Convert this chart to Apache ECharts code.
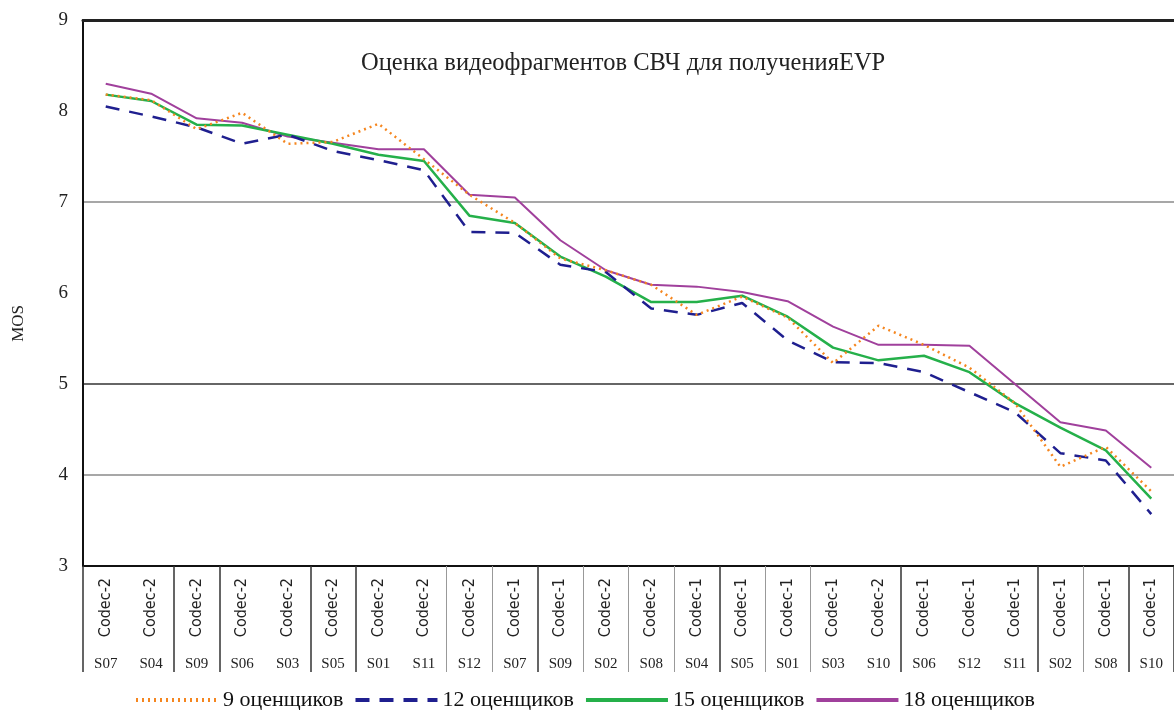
<!DOCTYPE html>
<html>
<head>
<meta charset="utf-8">
<title>MOS</title>
<script src="https://cdn.jsdelivr.net/npm/echarts@6/dist/echarts.min.js"></script>
<style>
    html, body { margin: 0; padding: 0; background: #fff; }
    #main { width: 1174px; height: 710px; }
</style>
</head>
<body>
<div id="main"></div>
<script>
// подписи категорий: кодек (повернут) и сцена
var codecs = ['Codec-2', 'Codec-2', 'Codec-2', 'Codec-2', 'Codec-2', 'Codec-2', 'Codec-2', 'Codec-2',
    'Codec-2', 'Codec-1', 'Codec-1', 'Codec-2', 'Codec-2', 'Codec-1', 'Codec-1', 'Codec-1',
    'Codec-1', 'Codec-2', 'Codec-1', 'Codec-1', 'Codec-1', 'Codec-1', 'Codec-1', 'Codec-1'];
var scenes = ['S07', 'S04', 'S09', 'S06', 'S03', 'S05', 'S01', 'S11',
    'S12', 'S07', 'S09', 'S02', 'S08', 'S04', 'S05', 'S01',
    'S03', 'S10', 'S06', 'S12', 'S11', 'S02', 'S08', 'S10'];

var yTicks = [3, 4, 5, 6, 7, 8, 9];

// оценки MOS
var mos9 = [8.18, 8.12, 7.8, 7.98, 7.64, 7.66, 7.86, 7.47, 7.08, 6.77, 6.38, 6.25,
    6.09, 5.76, 5.96, 5.73, 5.23, 5.64, 5.43, 5.18, 4.79, 4.09, 4.31, 3.82];
var mos12 = [8.05, 7.94, 7.82, 7.64, 7.74, 7.56, 7.46, 7.35, 6.67, 6.66, 6.31, 6.23,
    5.83, 5.76, 5.89, 5.48, 5.24, 5.23, 5.13, 4.91, 4.69, 4.24, 4.16, 3.57];
var mos15 = [8.18, 8.11, 7.85, 7.84, 7.74, 7.64, 7.52, 7.45, 6.85, 6.77, 6.4, 6.18,
    5.9, 5.9, 5.97, 5.74, 5.4, 5.26, 5.31, 5.13, 4.79, 4.52, 4.27, 3.74];
var mos18 = [8.3, 8.19, 7.92, 7.87, 7.72, 7.65, 7.58, 7.58, 7.08, 7.05, 6.58, 6.25,
    6.09, 6.07, 6.01, 5.91, 5.63, 5.43, 5.43, 5.42, 5.0, 4.58, 4.49, 4.08];

// границы групп на оси X
var darkBounds = [0, 2, 3, 5, 6, 10, 14, 18, 21, 23];
var lightBounds = [8, 9, 11, 12, 13, 15, 16, 22];

var serif = "'Liberation Serif', 'Times New Roman', serif";
var narrow = "'Liberation Sans Narrow', 'DejaVu Sans Condensed', sans-serif";

var chart = echarts.init(document.getElementById('main'));
chart.setOption({
    animation: false,
    backgroundColor: '#fff',
    title: {
        text: 'Оценка видеофрагментов СВЧ для полученияEVP',
        left: 356,
        top: 46,
        textStyle: { fontFamily: serif, fontSize: 24.5, fontWeight: 'normal', color: '#222' }
    },
    graphic: [{
        type: 'text',
        left: 10,
        top: 305,
        rotation: Math.PI / 2,
        style: { text: 'MOS', font: '17px ' + serif, fill: '#222' }
    }],
    legend: {
        left: 129,
        top: 684,
        itemWidth: 82,
        itemHeight: 14,
        itemGap: 10,
        itemStyle: { opacity: 0 },
        lineStyle: { width: 4 },
        textStyle: { fontFamily: serif, fontSize: 22, color: '#111' },
        data: ['9 оценщиков', '12 оценщиков', '15 оценщиков', '18 оценщиков']
    },
    grid: { left: 83, top: 20, right: -8, bottom: 144 },
    xAxis: [
        {
            type: 'category',
            data: codecs,
            position: 'bottom',
            axisLine: { lineStyle: { color: '#111', width: 2 } },
            axisTick: {
                show: true,
                length: 106,
                interval: function (idx) { return darkBounds.indexOf(idx) >= 0; },
                lineStyle: { color: '#333', width: 1.5 }
            },
            axisLabel: {
                interval: 0,
                rotate: 90,
                margin: 12,
                fontFamily: narrow,
                fontSize: 16,
                color: '#222'
            },
            splitLine: { show: false }
        },
        {
            type: 'category',
            data: scenes,
            position: 'bottom',
            axisLine: { show: false },
            axisTick: {
                show: true,
                length: 106,
                interval: function (idx) { return lightBounds.indexOf(idx) >= 0; },
                lineStyle: { color: '#999', width: 1 }
            },
            axisLabel: {
                interval: 0,
                margin: 91,
                fontFamily: serif,
                fontSize: 15,
                color: '#222'
            },
            splitLine: { show: false }
        },
        {
            type: 'category',
            data: scenes,
            position: 'top',
            axisLine: { lineStyle: { color: '#222', width: 3 } },
            axisTick: { show: false },
            axisLabel: { show: false }
        }
    ],
    yAxis: {
        type: 'value',
        min: yTicks[0],
        max: yTicks[yTicks.length - 1],
        interval: 1,
        axisLine: { show: true, lineStyle: { color: '#111', width: 2 } },
        axisTick: { show: false },
        axisLabel: { margin: 15, fontFamily: serif, fontSize: 19, color: '#222' },
        splitLine: {
            show: true,
            lineStyle: {
                width: 1.5,
                color: ['rgba(0,0,0,0)', '#8a8a8a', '#333', 'rgba(0,0,0,0)', '#8a8a8a', 'rgba(0,0,0,0)', 'rgba(0,0,0,0)']
            }
        }
    },
    series: [
        {
            name: '9 оценщиков',
            type: 'line',
            data: mos9,
            symbol: 'none',
            z: 4,
            itemStyle: { color: '#f5861f' },
            lineStyle: { color: '#f5861f', width: 2.5, type: [2, 4] }
        },
        {
            name: '12 оценщиков',
            type: 'line',
            data: mos12,
            symbol: 'none',
            z: 3,
            itemStyle: { color: '#1f1f8f' },
            lineStyle: { color: '#1f1f8f', width: 2.5, type: [14, 10] }
        },
        {
            name: '15 оценщиков',
            type: 'line',
            data: mos15,
            symbol: 'none',
            z: 2,
            itemStyle: { color: '#25b04a' },
            lineStyle: { color: '#25b04a', width: 2.5 }
        },
        {
            name: '18 оценщиков',
            type: 'line',
            data: mos18,
            symbol: 'none',
            z: 1,
            itemStyle: { color: '#a0409c' },
            lineStyle: { color: '#a0409c', width: 2 }
        }
    ]
});
</script>
</body>
</html>
